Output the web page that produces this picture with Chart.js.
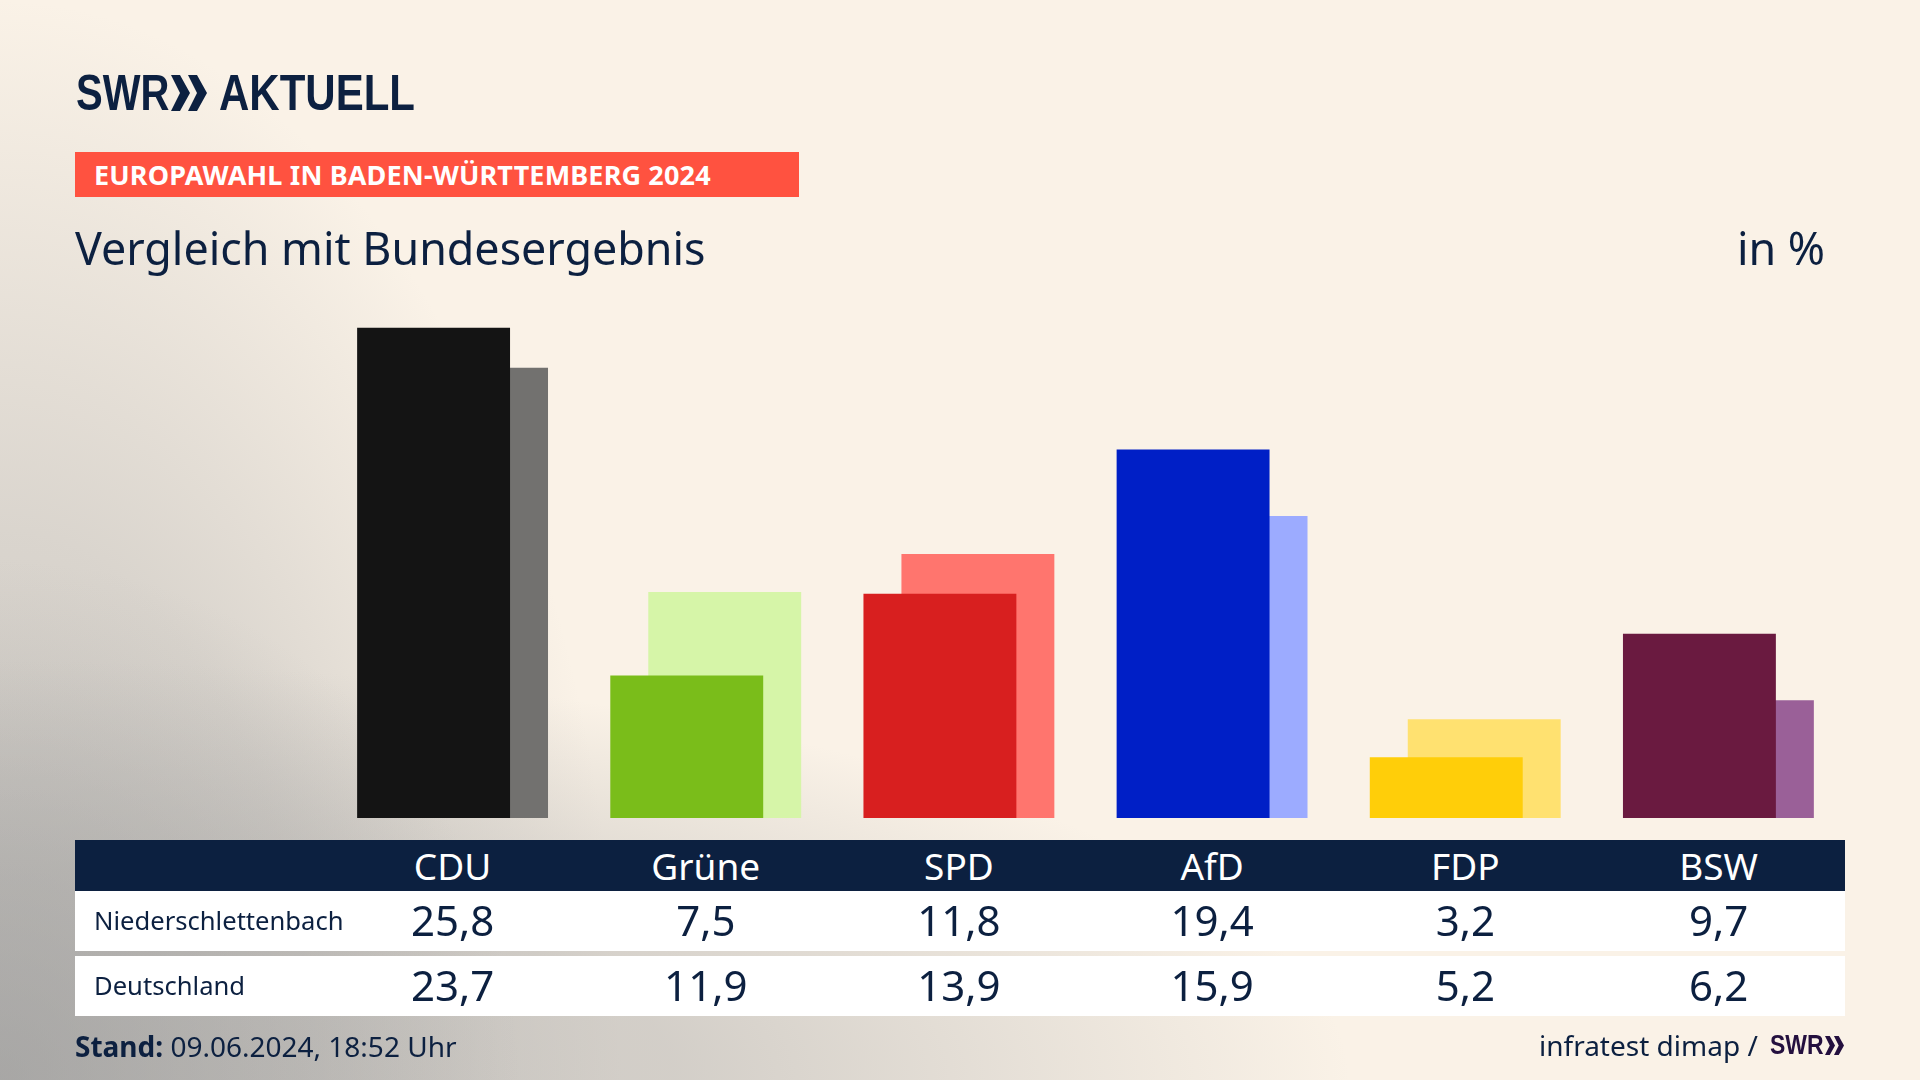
<!DOCTYPE html>
<html lang="de">
<head>
<meta charset="utf-8">
<title>Europawahl in Baden-Württemberg 2024</title>
<script src="https://cdn.jsdelivr.net/npm/chart.js@4/dist/chart.umd.min.js"></script>
<style>
  * { box-sizing: border-box; margin: 0; padding: 0; }
  html, body { width: 1920px; height: 1080px; overflow: hidden; }
  body {
    position: relative;
    font-family: "Noto Sans", sans-serif;
    color: #0c2040;
    background:
      radial-gradient(ellipse 520px 520px at 0 1080px, rgba(150,150,150,.55) 0%, rgba(150,150,150,0) 100%),
      radial-gradient(ellipse 1350px 420px at 0 1080px, rgba(185,183,180,.75) 0%, rgba(185,183,180,.6) 50%, rgba(185,183,180,0) 100%),
      radial-gradient(ellipse 620px 1080px at 0 1080px, rgba(185,183,180,.75) 0%, rgba(185,183,180,.5) 50%, rgba(185,183,180,0) 100%),
      #faf2e7;
  }
  canvas { position: absolute; left: 0; top: 0; }
  .abs { position: absolute; white-space: nowrap; }
  .logo-txt { font-family: "Liberation Sans", sans-serif; font-weight: 700; transform-origin: left center; }
  #swr { left: 76px; top: 63px; font-size: 50px; line-height: 60px; transform: scaleX(.8); }
  #aktuell { left: 219px; top: 63px; font-size: 50px; line-height: 60px; transform: scaleX(.84); }
  #chev { left: 171px; top: 75px; }
  #banner { left: 75px; top: 152px; width: 724px; height: 45px; background: #ff5240; color: #fff; font-weight: 700; font-size: 27px; line-height: 45px; padding-left: 19px; letter-spacing: .15px; }
  #title { left: 75px; top: 218px; font-size: 44.8px; line-height: 60px; }
  #unit { right: 95px; top: 218px; font-size: 44.8px; line-height: 60px; }
  .row { position: absolute; left: 75px; width: 1770px; display: grid; grid-template-columns: 251px repeat(6, 253.2px); align-items: center; text-align: center; background: #fff; }
  .row .name { text-align: left; padding-left: 19px; font-size: 25.6px; padding-bottom: 2px; }
  .row .val { font-size: 42px; padding-bottom: 4px; }
  #head { top: 840px; height: 51px; background: #0c2040; color: #fff; font-size: 37px; padding-bottom: 4px; }
  #row0 { top: 891px; height: 60px; }
  #row1 { top: 956px; height: 60px; }
  #stand { left: 75px; top: 1026px; font-size: 28px; line-height: 40px; }
  #source { left: 1539px; top: 1025px; font-size: 28px; line-height: 40px; }
  #srcswr { left: 1770px; top: 1025px; font-size: 28px; line-height: 40px; color: #24103f; transform: scaleX(.82); }
  #srcchev { left: 1825px; top: 1036px; }
</style>
</head>
<body>
<canvas id="chart" width="1920" height="1080"></canvas>

<div class="abs logo-txt" id="swr">SWR</div>
<svg class="abs" id="chev" width="36" height="36" viewBox="0 0 36 36"><path fill="#0c2040" d="M0 0h9l10 18-10 18H0l9-18zM17 0h9l10 18-10 18h-9l9-18z"/></svg>
<div class="abs logo-txt" id="aktuell">AKTUELL</div>
<div class="abs" id="banner">EUROPAWAHL IN BADEN-WÜRTTEMBERG 2024</div>
<div class="abs" id="title">Vergleich mit Bundesergebnis</div>
<div class="abs" id="unit">in %</div>

<div class="row" id="head"></div>
<div class="row" id="row0"></div>
<div class="row" id="row1"></div>

<div class="abs" id="stand"><b>Stand:</b> 09.06.2024, 18:52 Uhr</div>
<div class="abs" id="source">infratest dimap /</div>
<div class="abs logo-txt" id="srcswr">SWR</div>
<svg class="abs" id="srcchev" width="19" height="19" viewBox="0 0 36 36"><path fill="#24103f" d="M0 0h9l10 18-10 18H0l9-18zM17 0h9l10 18-10 18h-9l9-18z"/></svg>

<script>
  const parties = ["CDU", "Grüne", "SPD", "AfD", "FDP", "BSW"];
  const rowNames = ["Niederschlettenbach", "Deutschland"];
  const localValues = [25.8, 7.5, 11.8, 19.4, 3.2, 9.7];
  const federalValues = [23.7, 11.9, 13.9, 15.9, 5.2, 6.2];
  const localColors = ["#141414", "#7abd1a", "#d81f1f", "#001fc6", "#ffce09", "#6a1a40"];
  const federalColors = ["#72716f", "#d6f5a8", "#ff756e", "#9cabff", "#ffe170", "#9a6098"];

  const q = (s) => document.querySelector(s);
  const fmt = (v) => v.toFixed(1).replace(".", ",");

  q("#head").innerHTML = `<div></div>` + parties.map((p) => `<div>${p}</div>`).join("");
  [localValues, federalValues].forEach((vals, i) => {
    q(`#row${i}`).innerHTML = `<div class="name">${rowNames[i]}</div>` + vals.map((v) => `<div class="val">${fmt(v)}</div>`).join("");
  });

  // the federal bars sit on their own x axis, shifted a bit to the right
  const shift = 0.15;
  const toPoints = (vals) => vals.map((v, i) => ({ x: i, y: v }));
  const hiddenX = (min, max) => ({
    type: "linear",
    display: false,
    offset: false,
    min,
    max,
    grid: { display: false },
    // one tick per party, otherwise the bar width follows the tick spacing
    afterBuildTicks: (axis) => { axis.ticks = parties.map((p, i) => ({ value: i })); }
  });
  const barStyle = { grouped: false, barPercentage: 0.604, categoryPercentage: 1 };

  new Chart(q("#chart"), {
    type: "bar",
    data: {
      datasets: [
        { label: rowNames[0], data: toPoints(localValues), backgroundColor: localColors, xAxisID: "x", order: 1, ...barStyle },
        { label: rowNames[1], data: toPoints(federalValues), backgroundColor: federalColors, xAxisID: "x2", order: 2, ...barStyle }
      ]
    },
    options: {
      responsive: false,
      animation: false,
      layout: { padding: { left: 307, right: 94, top: 324, bottom: 262 } },
      scales: {
        x: hiddenX(-0.5, 5.5),
        x2: hiddenX(-0.5 - shift, 5.5 - shift),
        y: { display: false, min: 0, max: 26, grid: { display: false } }
      },
      plugins: { legend: { display: false }, tooltip: { enabled: false } }
    }
  });
</script>
</body>
</html>
